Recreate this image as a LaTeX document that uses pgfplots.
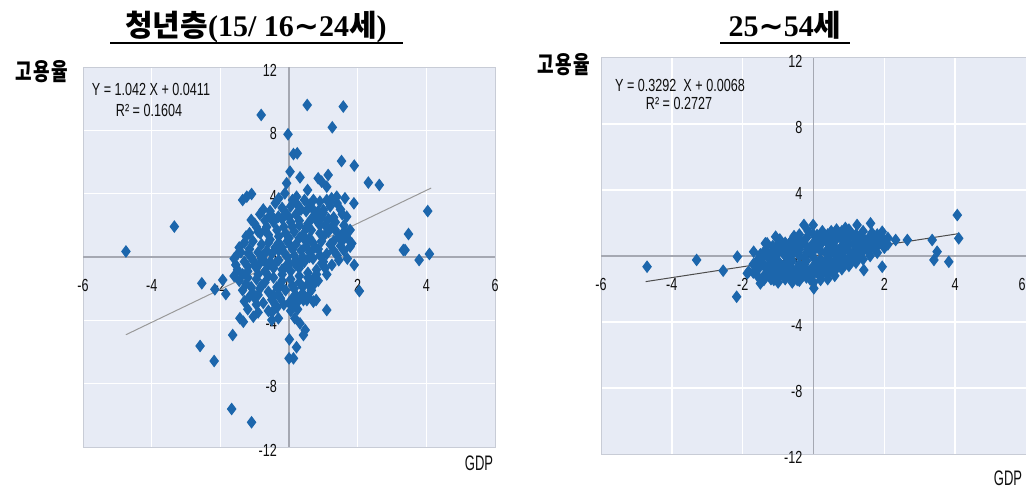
\documentclass[border=0pt]{standalone}
\usepackage{pgfplots}
\pgfplotsset{compat=1.18}
\usepackage{fontspec}
\setmainfont{Liberation Serif}
\newfontfamily\kr{Noto Sans CJK KR}
\newfontfamily\dv{DejaVu Sans}
\newfontfamily\krn{Noto Sans CJK KR}[FakeStretch=0.75]
\newfontfamily\tf{Liberation Sans}[FakeStretch=0.72]
\newfontfamily\tfn{Liberation Sans}[FakeStretch=0.62]
\definecolor{bgc}{RGB}{231,235,245}
\definecolor{mk}{RGB}{28,102,172}
\definecolor{framec}{RGB}{200,204,214}
\definecolor{zc}{RGB}{165,168,178}
\definecolor{txt}{RGB}{15,15,15}
\pgfplotsset{
 myax/.style={
  scale only axis, anchor=south west,
  xmin=-6,xmax=6,ymin=-12,ymax=12,
  xtick={-4,-2,0,2,4}, ytick={-8,-4,0,4,8},
  xticklabels={},yticklabels={},
  major tick length=0pt,
  grid=major, major grid style={white, line width=1.6pt},
  axis background/.style={fill=bgc},
  axis line style={draw=framec, line width=1pt},
  clip=false,
 },
 mks/.style={only marks, mark=diamond*, mark size=5.5pt, mark options={fill=mk, draw=mk, line width=1.1pt}},
}
\tikzset{tl/.style={font=\tf\fontsize{17.5}{17.5}\selectfont, text=txt, inner sep=0pt},
 yl/.style={tl, anchor=east, xshift=-12pt, yshift=-3pt},
 xl/.style={tl, yshift=-28pt}}
\begin{document}
\begin{tikzpicture}
\useasboundingbox (0,0) rectangle (1026pt,491pt);
% titles
\node[anchor=base, inner sep=0pt] at (256pt,454pt) {\fontsize{30}{30}\selectfont\bfseries{\kr 청년층}(15/ 16{\dv ∼}24{\kr 세})};
\draw[line width=1.6pt] (110pt,448pt) -- (403pt,448pt);
\node[anchor=base, inner sep=0pt] at (785pt,454pt) {\fontsize{30}{30}\selectfont\bfseries 25{\dv ∼}54{\kr 세}};
\draw[line width=1.6pt] (720pt,448pt) -- (850pt,448pt);
% y labels
\node[inner sep=0pt] at (41.5pt,419.5pt) {\krn\bfseries\fontsize{24}{24}\selectfont 고\hspace{1.5pt}용\hspace{1.5pt}율};
\node[inner sep=0pt] at (563.5pt,426pt) {\krn\bfseries\fontsize{24}{24}\selectfont 고\hspace{1.5pt}용\hspace{1.5pt}율};
% GDP labels
\node[inner sep=0pt, text=txt] at (479pt,28pt) {\tfn\fontsize{21}{21}\selectfont GDP};
\node[inner sep=0pt, text=txt] at (1008pt,13pt) {\tfn\fontsize{21}{21}\selectfont GDP};

% ---------------- left axis ----------------
\begin{axis}[myax, at={(83pt,44pt)}, width=412pt, height=380pt]
\draw[zc, line width=1.3pt] (axis cs:0,-12) -- (axis cs:0,12);
\draw[zc, line width=1.3pt] (axis cs:-6,0) -- (axis cs:6,0);
\node[yl] at (axis cs:0,12) {12};
\node[yl] at (axis cs:0,8) {8};
\node[yl] at (axis cs:0,4) {4};
\node[yl] at (axis cs:0,0) {0};
\node[yl] at (axis cs:0,-4) {-4};
\node[yl] at (axis cs:0,-8) {-8};
\node[yl] at (axis cs:0,-12) {-12};
\node[xl] at (axis cs:-6,0) {-6};
\node[xl] at (axis cs:-4,0) {-4};
\node[xl] at (axis cs:-2,0) {-2};
\node[xl] at (axis cs:0,0) {0};
\node[xl] at (axis cs:2,0) {2};
\node[xl] at (axis cs:4,0) {4};
\node[xl] at (axis cs:6,0) {6};
\addplot[color=gray!80, line width=1pt] coordinates {(-4.75,-4.9084) (4.14,4.3550)};
\addplot[mks] coordinates {
(-0.4,3.4) (0.1,3.6) (0.6,3.3) (0.9,3.5) (-0.2,3.1) (0.35,3.0) (1.2,3.2) (1.5,3.0)
(-0.55,2.9) (-0.1,2.8) (0.2,2.7) (0.5,2.9) (0.75,2.6) (1.0,2.8) (1.3,2.5) (1.55,2.7) (-0.85,2.7)
(-1.0,2.1) (-0.7,2.3) (-0.45,2.2) (-0.2,2.4) (0.05,2.2) (0.3,2.3) (0.55,2.1) (0.8,2.3) (1.05,2.0) (1.35,2.2) (1.6,2.0)
(-1.15,1.5) (-0.9,1.6) (-0.6,1.4) (-0.35,1.7) (-0.1,1.5) (0.15,1.6) (0.4,1.4) (0.65,1.7) (0.9,1.5) (1.15,1.6) (1.45,1.3) (1.7,1.2)
(-1.3,0.9) (-1.05,1.0) (-0.8,0.8) (-0.55,1.1) (-0.3,0.9) (-0.05,1.0) (0.2,0.8) (0.45,1.1) (0.7,0.9) (0.95,1.0) (1.2,0.8) (1.5,0.7)
(-1.4,0.3) (-1.15,0.5) (-0.9,0.3) (-0.65,0.4) (-0.4,0.6) (-0.15,0.3) (0.1,0.5) (0.35,0.4) (0.6,0.3) (0.85,0.5) (1.1,0.2) (1.4,0.1) (1.7,-0.1)
(-1.6,-0.1) (-1.3,-0.3) (-1.05,-0.2) (-0.8,-0.1) (-0.55,-0.3) (-0.3,-0.2) (-0.05,0.0) (0.2,-0.2) (0.45,-0.3) (0.7,-0.1) (0.95,-0.4) (1.25,-0.5)
(-1.5,-0.8) (-1.2,-0.9) (-0.95,-0.7) (-0.7,-0.9) (-0.45,-0.7) (-0.2,-0.8) (0.05,-0.9) (0.3,-0.7) (0.55,-1.0) (0.8,-0.8) (1.1,-1.1)
(-1.45,-1.5) (-1.2,-1.3) (-0.95,-1.4) (-0.7,-1.6) (-0.45,-1.3) (-0.2,-1.5) (0.05,-1.4) (0.3,-1.6) (0.55,-1.3) (0.85,-1.5)
(-1.35,-2.1) (-1.1,-1.9) (-0.85,-2.0) (-0.6,-2.2) (-0.35,-1.9) (-0.1,-2.1) (0.15,-2.0) (0.4,-2.3) (0.65,-2.1)
(-1.3,-2.8) (-1.0,-2.6) (-0.75,-2.9) (-0.5,-2.7) (-0.25,-2.6) (0.0,-2.9) (0.3,-2.7) (0.55,-2.5)
(-1.2,-3.3) (-0.9,-3.5) (-0.6,-3.4) (-0.35,-3.2) (0.05,-3.4) (0.25,-3.3)
(-0.3,0.4) (0.0,1.2) (0.2,-0.5) (-0.6,-0.5) (0.4,0.0) (0.1,1.9) (-0.2,-1.1) (0.6,1.2) (-0.9,-1.1) (0.3,2.0) (-0.75,0.1) (0.75,0.6) (-0.45,-2.4) (0.9,2.0) (1.3,1.0) (-1.0,-0.5) (0.0,-0.4) (0.5,0.7)
(-0.3,-2.4) (0.2,-2.4) (-0.9,-2.4) (-1.15,-2.5) (0.55,-1.7) (0.8,-1.1) (-1.35,-1.1) (-1.45,0.6) (1.6,0.4) (1.45,-0.2) (1.35,1.7) (1.6,1.6) (-0.75,3.0) (0.05,3.2) (0.7,3.0) (1.1,3.6) (1.4,3.4) (-0.3,3.7) (0.45,3.6) (-0.65,1.9) (0.95,2.5) (0.0,2.5) (-1.25,1.3) (-1.55,-0.5) (-1.6,-1.2) (1.05,-0.7) (0.7,-1.8) (-0.15,-3.0) (-0.5,-3.5) (-0.95,-3.0) (0.1,-2.6)
(-0.6,0.9) (-0.2,0.6) (0.3,1.2) (0.6,0.0) (-0.4,-0.4) (-0.1,-0.6) (0.35,-0.4) (0.15,0.1) (-0.5,0.2) (-0.85,-0.4) (-1.1,0.0) (0.9,0.1) (1.0,1.3) (0.5,1.8) (-0.15,1.9) (-0.5,2.6) (0.25,3.3) (0.85,2.9) (1.15,2.4) (-0.95,1.9) (-1.2,-0.6) (-0.6,-1.2) (-0.25,-1.8) (0.3,-1.2) (0.1,-1.8) (-0.8,-1.8) (-1.05,-2.3) (-0.4,-3.0) (0.4,-1.9) (0.7,-1.4) (1.0,-0.3) (1.3,0.4) (1.55,1.0) (1.25,1.9) (0.65,2.4) (-0.3,1.3) (0.05,0.7) (-0.7,-0.3) (-1.25,-1.7) (0.15,-3.0)
(-4.75,0.35) (-3.34,1.92) (-0.81,8.97) (0.53,9.6) (1.58,9.5) (1.26,8.19) (-0.03,7.75) (0.13,6.5) (0.24,6.55) (1.53,6.06) (1.90,5.77) (2.31,4.7) (2.63,4.55) (4.04,2.9) (3.48,1.45) (3.38,0.44) (3.79,-0.19) (4.09,0.19)
(-1.35,3.6) (-1.23,3.81) (-1.09,3.98) (-1.1,2.34) (-2.54,-1.66) (-1.93,-1.45) (-2.16,-2.04) (-1.84,-2.34) (-2.59,-5.62) (-2.18,-6.57) (-1.64,-4.93) (-1.67,-9.6) (-1.09,-10.44)
(0,-6.4) (0.13,-6.4) (0.22,-5.7) (0.01,-5.2) (0.42,-4.93) (1.1,-3.35) (1.9,-0.5) (2.05,-2.15) (0.71,-2.82) (0.52,-2.72)
(0.03,5.39) (0.32,5.03) (0.85,4.97) (0.95,4.76) (1.1,4.44) (1.14,5.18) (0.54,4.23) (-0.07,4.66) (-0.12,4.02) (-0.58,2.55) (0.22,3.81) (1.24,3.71) (1.39,3.81) (1.63,3.71) (1.89,3.39) (1.68,2.55) (1.78,1.71) (1.83,0.86) (0.71,3.6) (1.0,2.97) (-0.31,2.55) (-0.84,1.5) (-0.7,1.7) (-1.48,0.23) (-1.19,0.23)
(-1.43,-3.87) (-1.33,-4.09) (-1.04,-3.77) (-0.5,-3.98) (-0.31,-3.87) (0.47,-4.61) (0.32,-4.19) (0.17,-3.87) (0.79,-2.72) (0.42,-2.72) (0.32,-2.51) (1.78,0.65) (3.33,0.44)
};
\end{axis}
\node[tl] at (151pt,402pt) {Y = 1.042 X + 0.0411};
\node[tl] at (149pt,381pt) {R² = 0.1604};

% ---------------- right axis ----------------
\begin{axis}[myax, at={(601pt,37pt)}, width=425pt, height=396pt]
\draw[zc, line width=1.3pt] (axis cs:0,-12) -- (axis cs:0,12);
\draw[zc, line width=1.3pt] (axis cs:-6,0) -- (axis cs:6,0);
\node[yl, xshift=1pt] at (axis cs:0,12) {12};
\node[yl, xshift=1pt] at (axis cs:0,8) {8};
\node[yl, xshift=1pt] at (axis cs:0,4) {4};
\node[yl, xshift=1pt] at (axis cs:0,0) {0};
\node[yl, xshift=1pt] at (axis cs:0,-4) {-4};
\node[yl, xshift=1pt] at (axis cs:0,-8) {-8};
\node[yl, xshift=1pt] at (axis cs:0,-12) {-12};
\node[xl] at (axis cs:-6,0) {-6};
\node[xl] at (axis cs:-4,0) {-4};
\node[xl] at (axis cs:-2,0) {-2};
\node[xl] at (axis cs:0,0) {0};
\node[xl] at (axis cs:2,0) {2};
\node[xl] at (axis cs:4,0) {4};
\node[xl, xshift=-4pt] at (axis cs:6,0) {6};
\addplot[mks] coordinates {
(-1.6,-0.9) (-1.6,-0.3) (-1.55,-1.3) (-1.5,0.1)
(-1.4,-1.2) (-1.4,-0.6) (-1.4,0.0) (-1.35,0.4)
(-1.2,-1.4) (-1.2,-0.9) (-1.2,-0.4) (-1.2,0.1) (-1.15,0.6)
(-1.0,-1.3) (-1.0,-0.8) (-1.0,-0.3) (-1.0,0.2) (-1.0,0.7) (-0.95,1.0)
(-0.8,-1.4) (-0.8,-0.9) (-0.8,-0.5) (-0.8,0.0) (-0.8,0.4) (-0.8,0.8)
(-0.6,-1.3) (-0.6,-0.8) (-0.6,-0.3) (-0.6,0.1) (-0.6,0.5) (-0.6,1.0)
(-0.4,-1.5) (-0.4,-1.0) (-0.4,-0.5) (-0.4,0.0) (-0.4,0.4) (-0.4,0.9) (-0.4,1.3)
(-0.2,-1.3) (-0.2,-0.8) (-0.2,-0.3) (-0.2,0.2) (-0.2,0.6) (-0.2,1.1)
(0.0,-1.6) (0.0,-1.1) (0.0,-0.6) (0.0,-0.1) (0.0,0.3) (0.0,0.8) (0.0,1.3)
(0.2,-1.2) (0.2,-0.7) (0.2,-0.2) (0.2,0.3) (0.2,0.7) (0.2,1.2)
(0.4,-1.1) (0.4,-0.6) (0.4,-0.1) (0.4,0.4) (0.4,0.8) (0.4,1.3)
(0.6,-0.9) (0.6,-0.4) (0.6,0.1) (0.6,0.5) (0.6,0.9) (0.6,1.4)
(0.8,-0.8) (0.8,-0.3) (0.8,0.2) (0.8,0.6) (0.8,1.0) (0.8,1.5)
(1.0,-0.6) (1.0,-0.1) (1.0,0.3) (1.0,0.7) (1.0,1.1) (1.0,1.6)
(1.2,-0.4) (1.2,0.1) (1.2,0.5) (1.2,0.9) (1.2,1.3)
(1.4,-0.2) (1.4,0.3) (1.4,0.7) (1.4,1.1) (1.4,1.5)
(1.6,0.0) (1.6,0.4) (1.6,0.8) (1.6,1.2)
(1.8,0.2) (1.8,0.6) (1.8,1.0) (1.8,1.3)
(2.0,0.5) (2.0,0.9)
(-1.3,-0.7) (-1.1,-0.1) (-0.9,0.3) (-0.7,-1.1) (-0.5,0.7) (-0.3,-0.7) (-0.1,0.5) (0.1,-0.4) (0.3,1.0) (0.5,0.2) (0.7,-0.6) (0.9,0.4) (1.1,1.3) (1.3,0.7) (1.5,0.9) (1.7,0.5) (1.9,0.8) (-0.1,-1.4) (0.3,-0.9) (0.5,1.1) (0.7,1.2) (0.9,1.3) (1.1,-0.3) (-0.5,-1.2) (-0.7,0.3) (-0.9,-0.6) (-1.1,-1.1) (-1.3,0.2)
(-1.5,-0.6) (-1.3,-1.0) (-1.1,-0.7) (-0.9,-1.0) (-0.7,-0.6) (-0.5,-0.9) (-0.3,-1.2) (-0.1,-0.9) (0.1,-1.0) (0.3,-0.5) (0.5,-0.4) (0.7,-0.2) (0.9,-0.5) (1.1,0.1) (1.3,0.3) (1.5,0.4) (1.7,0.9) (1.9,1.1) (-0.7,0.7) (-0.3,0.8) (0.1,1.0) (0.5,1.5) (0.9,1.7) (1.3,1.2) (-1.5,-0.2) (-1.7,-0.5) (-1.7,-1.0) (2.1,0.7) (2.1,1.1) (-1.0,-1.6) (-0.6,-1.6) (0.4,-1.4) (0.6,-1.2)
(-1.45,-0.4) (-1.25,-0.2) (-1.05,0.4) (-0.85,0.6) (-0.65,-0.2) (-0.45,0.2) (-0.25,-0.1) (-0.05,0.1) (0.15,0.5) (0.35,0.2) (0.55,0.7) (0.75,0.4) (0.95,0.9) (1.15,0.7) (1.35,0.9) (1.55,0.6) (1.75,0.7) (1.95,1.0) (-0.45,-0.7) (-0.25,-0.5) (0.15,-0.8) (0.45,-0.8) (0.85,-0.1) (1.25,-0.1) (-0.85,-1.2) (-1.25,-1.2) (0.25,1.5) (0.65,1.6) (1.05,1.4) (-0.15,1.5) (-0.55,1.2) (1.65,1.4)
(-4.70,-0.65) (-3.30,-0.24) (-2.55,-0.89) (-2.15,-0.04) (-2.17,-2.47) (-1.83,-0.95) (-1.87,-1.05) (-1.69,0.26) (-1.36,0.77) (-1.07,1.17) (-1.31,0.77) (-0.27,1.88) (-0.01,1.88) (0.1,1.27) (1.23,1.88) (1.61,1.98) (1.94,1.47) (2.32,0.97) (2.65,0.97) (3.35,0.97) (4.06,2.48) (4.1,1.07) (3.49,0.26) (3.40,-0.24) (3.82,-0.35) (1.94,-0.65) (1.42,-0.85) (-1.40,-1.45) (0.01,-1.96) (-1.5,-1.66) (-1.12,-1.45) (-0.46,-1.45) (0.2,-1.45)
};
\addplot[color=black!70, line width=1pt] coordinates {(-4.74,-1.5536) (4.10,1.3565)};
\end{axis}
\node[tl] at (680pt,406pt) {Y = 0.3292 \ X + 0.0068};
\node[tl] at (679pt,388pt) {R² = 0.2727};
\end{tikzpicture}
\end{document}
